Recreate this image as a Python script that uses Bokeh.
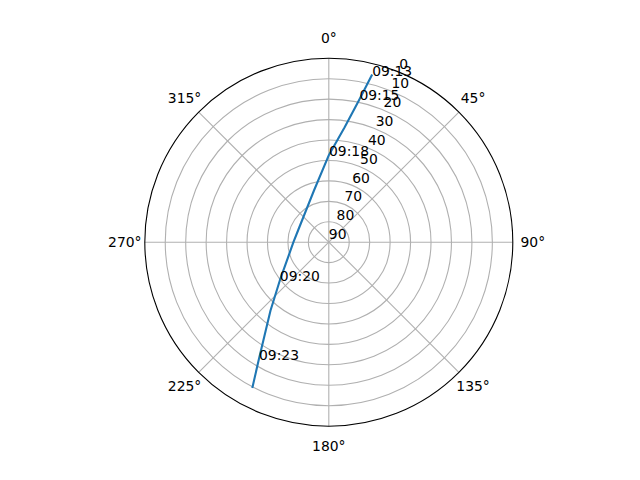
import numpy as np
from bokeh.plotting import figure
from bokeh.models import Range1d
from bokeh.core.properties import value
from bokeh.embed import file_html
from bokeh.resources import INLINE

# ---- data ----
track_az = [14.5, 12.1, 7.8, 0.1, 344.0, 290.8, 270.0, 232.0, 220.5, 210.9, 207.7]
track_el = [5.3, 18.6, 33.4, 47.3, 63.7, 73.9, 72.7, 59.6, 46.1, 23.5, 9.5]

label_times = ["09:13", "09:15", "09:18", "09:20", "09:23"]
label_az = [14.5, 12.1, 0.1, 232.0, 210.9]
label_el = [5.3, 18.6, 47.3, 59.6, 23.5]

elev_ticks = [0, 10, 20, 30, 40, 50, 60, 70, 80, 90]
az_ticks = [0, 45, 90, 135, 180, 225, 270, 315]
az_tick_labels = ["0°", "45°", "90°", "135°", "180°", "225°", "270°", "315°"]
rlabel_angle = 22.5

# ---- geometry ----
W, H = 624, 464
R_PX = 184.0
S = R_PX / 90.0          # pixels per degree of zenith distance
CX, CY = 328.3, 241.7    # centre in canvas pixels

def to_xy(az, el):
    az = np.radians(np.asarray(az, dtype=float))
    r = 90.0 - np.asarray(el, dtype=float)
    return r * np.sin(az), r * np.cos(az)

p = figure(width=W, height=H, output_backend="svg", toolbar_location=None,
           x_range=Range1d(-CX / S, (W - CX) / S),
           y_range=Range1d(-(H - CY) / S, CY / S),
           x_axis_type=None, y_axis_type=None, min_border=0)
p.outline_line_color = None
p.grid.visible = False
p.background_fill_color = "white"
p.border_fill_color = "white"

FONT = value("DejaVu Sans")
FS = "13.9px"
GRID = "#b0b0b0"

# grid rings
ring_r = [90 - e for e in elev_ticks if 0 < e < 90]
p.circle(x=[0] * len(ring_r), y=[0] * len(ring_r), radius=ring_r,
         fill_color=None, line_color=GRID, line_width=1.1)

# spokes
sx, sy = to_xy(az_ticks, [0] * len(az_ticks))
p.segment(x0=[0] * len(az_ticks), y0=[0] * len(az_ticks), x1=sx, y1=sy,
          line_color=GRID, line_width=1.1)

# track
tx, ty = to_xy(track_az, track_el)
p.line(tx, ty, line_color="#1f77b4", line_width=2.1, line_join="round")

# outer spine
p.circle(x=[0], y=[0], radius=[90], fill_color=None, line_color="black", line_width=1.1)

# radial labels
rx, ry = to_xy([rlabel_angle] * len(elev_ticks), elev_ticks)
p.text(x=rx, y=ry, text=[str(e) for e in elev_ticks], text_font=FONT,
       text_font_size=FS, text_align="left", text_baseline="alphabetic",
       x_offset=0, y_offset=-8, text_color="black")

# azimuth labels
lab_r = 204.0 / S
ax_ = [lab_r * np.sin(np.radians(a)) for a in az_ticks]
ay_ = [lab_r * np.cos(np.radians(a)) for a in az_ticks]
p.text(x=ax_, y=ay_, text=az_tick_labels, text_font=FONT, text_font_size=FS,
       text_align="center", text_baseline="middle", text_color="black")

# time labels
lx, ly = to_xy(label_az, label_el)
p.text(x=lx, y=ly, text=label_times, text_font=FONT, text_font_size=FS,
       text_align="left", text_baseline="alphabetic", y_offset=-4, text_color="black")

open("out.html", "w").write(file_html(p, INLINE))
